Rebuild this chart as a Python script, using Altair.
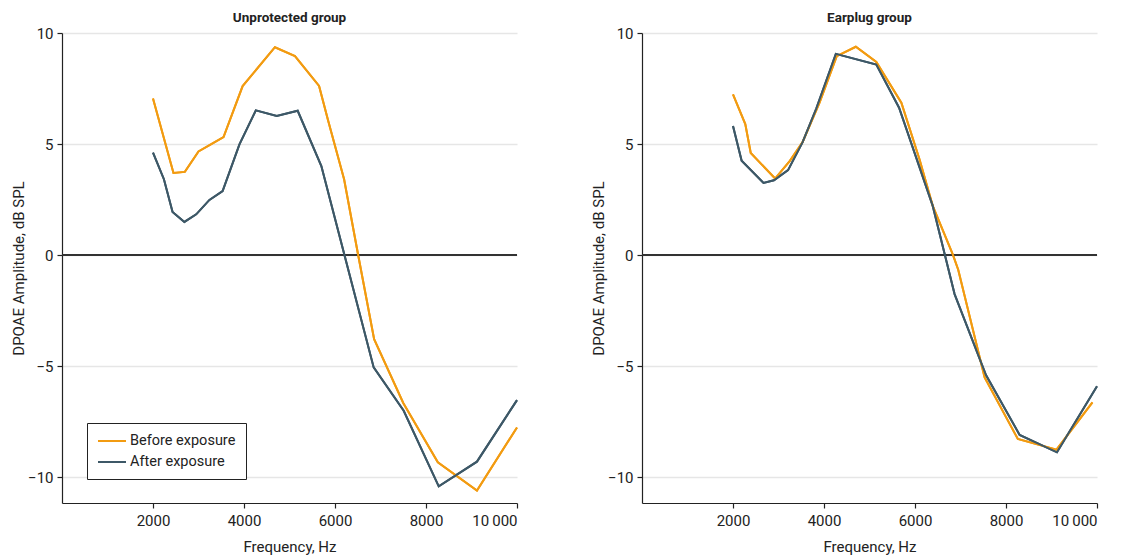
import altair as alt
import pandas as pd

# ---- data ----
series_names = ["Before exposure", "After exposure"]
series_colors = ["#F29B11", "#3D5867"]

unprot_before_freq = [2000, 2450, 2700, 3000, 3300, 3550, 3970, 4680, 5120, 5650, 5850, 6200, 6510, 6860, 7500, 8260, 9120, 10000]
unprot_before_amp = [7.05, 3.70, 3.75, 4.67, 5.02, 5.32, 7.61, 9.36, 8.96, 7.62, 6.05, 3.42, 0.0, -3.78, -6.65, -9.32, -10.59, -7.75]

unprot_after_freq = [2000, 2240, 2430, 2690, 2950, 3240, 3530, 3900, 4260, 4720, 5180, 5700, 6850, 7510, 8280, 9120, 10000]
unprot_after_amp = [4.62, 3.42, 1.95, 1.50, 1.84, 2.49, 2.89, 4.99, 6.52, 6.27, 6.50, 4.01, -5.05, -7.00, -10.40, -9.29, -6.52]

ear_before_freq = [2000, 2270, 2390, 2925, 3250, 3530, 3900, 4280, 4700, 5150, 5700, 6100, 6390, 6830, 6950, 7530, 8260, 9110, 9900]
ear_before_amp = [7.24, 5.90, 4.60, 3.45, 4.25, 5.09, 6.86, 8.96, 9.38, 8.70, 6.86, 4.31, 2.22, 0.04, -0.65, -5.50, -8.27, -8.75, -6.62]

ear_after_freq = [2000, 2190, 2670, 2900, 3210, 3530, 3830, 4260, 5150, 5650, 6390, 6870, 7560, 8300, 9120, 10000]
ear_after_amp = [5.81, 4.25, 3.25, 3.37, 3.83, 5.09, 6.60, 9.06, 8.58, 6.64, 2.22, -1.75, -5.39, -8.09, -8.87, -5.90]

x_ticks = [2000, 4000, 6000, 8000, 10000]
y_ticks = [-10, -5, 0, 5, 10]

FONT = "Roboto"
INK = "#222222"


def make_df(bf, ba, af, aa):
    rows = []
    for f, a in zip(bf, ba):
        rows.append({"freq": f, "amp": a, "series": series_names[0]})
    for f, a in zip(af, aa):
        rows.append({"freq": f, "amp": a, "series": series_names[1]})
    return pd.DataFrame(rows)


def panel(title, df, show_legend):
    if show_legend:
        legend = alt.Legend(
            orient="none", legendX=25, legendY=390, title=None,
            strokeColor="#222222", fillColor="white", padding=10,
            symbolType="M-2,0L2,0", symbolSize=196, symbolStrokeWidth=2,
            symbolOffset=7,
            labelFont=FONT, labelFontSize=14.5, labelColor=INK,
            labelOffset=10, rowPadding=6, cornerRadius=0,
        )
    else:
        legend = None
    x = alt.X("freq:Q", scale=alt.Scale(domain=[0, 10000], nice=False, zero=False),
              axis=alt.Axis(values=x_ticks, format="d", title="Frequency, Hz", grid=False,
                            labelExpr="datum.value == 10000 ? '10\u2009000' : datum.label",
                            titlePadding=11, labelPadding=5))
    y = alt.Y("amp:Q", scale=alt.Scale(domain=[-11.15, 10], nice=False, zero=False),
              axis=alt.Axis(values=y_ticks, title="DPOAE Amplitude, dB SPL", grid=True,
                            labelExpr="replace(datum.label, '-', '\u2212')",
                            titlePadding=1, labelPadding=4))
    zero = alt.Chart(df).mark_rule(color="#333333", strokeWidth=1.5).encode(y=alt.datum(0))
    lines = alt.Chart(df).mark_line(strokeWidth=2).encode(
        x=x, y=y,
        color=alt.Color("series:N", sort=series_names,
                        scale=alt.Scale(domain=series_names, range=series_colors),
                        legend=legend),
    )
    return alt.layer(lines, zero, lines).properties(
        width=455, height=470,
        title=alt.TitleParams(title, anchor="middle", font=FONT, fontSize=13.5,
                              fontWeight="bold", color=INK, offset=2),
    )


left = panel("Unprotected group",
             make_df(unprot_before_freq, unprot_before_amp, unprot_after_freq, unprot_after_amp), True)
right = panel("Earplug group",
              make_df(ear_before_freq, ear_before_amp, ear_after_freq, ear_after_amp), False)

chart = alt.hconcat(left, right, spacing=70).resolve_scale(color="independent").configure_view(
    stroke=None
).configure_axis(
    labelFont=FONT, labelFontSize=15, labelColor=INK,
    titleFont=FONT, titleFontSize=15, titleFontWeight="normal", titleColor=INK,
    domainColor=INK, tickColor=INK, tickSize=5, domainWidth=1.2, tickWidth=1.2,
    gridColor="#E6E6E6", gridWidth=1.5,
).properties(padding={"left": 3, "top": 2, "right": 5, "bottom": 5})

chart.save("out.html", embed_options={"renderer": "svg", "actions": False})
